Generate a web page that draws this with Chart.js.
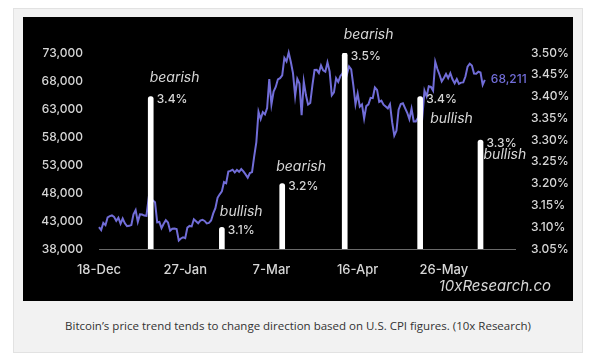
<!DOCTYPE html>
<html>
<head>
<meta charset="utf-8">
<script src="https://cdn.jsdelivr.net/npm/chart.js@4.4.1/dist/chart.umd.min.js"></script>
<style>
    html, body { margin: 0; padding: 0; background: #fff; }
    #frame { position: absolute; left: 13px; top: 8px; width: 568px; height: 343px; background: #f2f2f2; border: 1px solid #e2e2e2; }
    #plot { position: absolute; left: 9px; top: 8px; width: 550px; height: 284px; background: #000; }
    #caption { position: absolute; left: 0; top: 309px; width: 100%; text-align: center; font: 11.5px "Open Sans", sans-serif; color: #333; }
</style>
</head>
<body>
<div id="frame">
    <div id="plot"><canvas id="btcCpiChart"></canvas></div>
    <div id="caption">Bitcoin’s price trend tends to change direction based on U.S. CPI figures. (10x Research)</div>
</div>
<script>
// daily axis from 18-Dec to 28-Jun, only some dates get a tick label
var firstDay = new Date(2023, 11, 18);
var axisDays = 194;
var tickLabels = ['18-Dec', '27-Jan', '7-Mar', '16-Apr', '26-May'];

// BTC price, one value per day starting 18-Dec
var btcPrice = [
    41900, 41370, 42660, 42260, 43650, 43870, 43990, 43740, 43020, 43580, 42510, 43440, 42580, 42070, 42140, 42280,
    44180, 44950, 42850, 44180, 44160, 43970, 43930, 46970, 46120, 46660, 46340, 42780, 42840, 41730, 42510, 43150,
    42740, 41260, 41620, 41670, 41550, 39510, 39880, 40080, 39940, 41820, 42120, 42030, 43300, 42940, 42580,
    43080, 43200, 43010, 42580, 42660, 43090, 44350, 45300, 47150, 47770, 48290, 49960, 49740, 51830, 51940, 52160,
    51660, 52120, 51780, 52280, 51850, 51320, 50730, 51570, 51730, 54520, 57090, 62500, 61200,
    62440, 62030, 63170, 68330, 63800, 66110, 66930, 68300, 68500, 69020, 72120, 71480, 73080, 71400, 69400, 65300,
    68390, 67550, 61910, 67910, 65490, 63780, 64060, 67210, 69960, 69990, 69450, 70780, 69890, 69650, 71330,
    69700, 65450, 65980, 68510, 67840, 68900, 69360, 71620, 69140, 70590, 70060, 67200, 63820, 65740, 63420, 63810,
    61280, 63510, 63840, 64990, 64930, 66840, 66410, 64280, 64500, 63770, 63460, 63120, 63840, 60640,
    58250, 59120, 62890, 63890, 64030, 63160, 62330, 61190, 63050, 60790, 60790, 61450, 62900, 61550, 66270, 65230,
    67050, 66940, 66280, 71450, 70140, 69120, 67930, 68530, 69260, 68510, 69390, 68300, 67590, 68360, 67490,
    67710, 67750, 68800, 70570, 71080, 70760, 69340, 69300, 69650, 69510, 67320, 68211
];

// CPI releases
var cpiDates = ['11-Jan', '13-Feb', '12-Mar', '10-Apr', '15-May', '12-Jun'];
var cpiValues = [3.4, 3.1, 3.2, 3.5, 3.4, 3.3];
var cpiCalls = ['bearish', 'bullish', 'bearish', 'bearish', 'bullish', 'bullish'];

var months = ['Jan', 'Feb', 'Mar', 'Apr', 'May', 'Jun', 'Jul', 'Aug', 'Sep', 'Oct', 'Nov', 'Dec'];
var labels = [];
for (var i = 0; i < axisDays; i++) {
    var d = new Date(firstDay.getFullYear(), firstDay.getMonth(), firstDay.getDate() + i);
    labels.push(d.getDate() + '-' + months[d.getMonth()]);
}

var cpiBase = 3.05;
var cpiBars = labels.map(function (l) {
    var k = cpiDates.indexOf(l);
    return k >= 0 ? [cpiBase, cpiValues[k]] : null;
});

var FONT = 'Inter, "Noto Sans", sans-serif';
var TEXT = '#d6d6d6';
var PURPLE = '#716dd8';

// where the sentiment word sits relative to each bar top
var callPlacement = [
    { dx: -1, dy: -19 }, { dx: -2, dy: -15 }, { dx: -6, dy: -17 },
    { dx: -1, dy: -18 }, { dx: 10, dy: 22 }, { dx: 3, dy: 15 }
];

var annotations = {
    id: 'annotations',
    afterDatasetsDraw: function (chart) {
        var ctx = chart.ctx;
        var x = chart.scales.x, y1 = chart.scales.y1;
        ctx.save();
        ctx.textBaseline = 'middle';
        ctx.textAlign = 'left';
        cpiDates.forEach(function (d, k) {
            var px = x.getPixelForValue(labels.indexOf(d));
            var top = y1.getPixelForValue(cpiValues[k]);
            ctx.fillStyle = TEXT;
            ctx.font = '500 12px ' + FONT;
            ctx.fillText(cpiValues[k].toFixed(1) + '%', px + 6, top + 3);
            ctx.font = 'italic 400 14px ' + FONT;
            ctx.fillText(cpiCalls[k], px + callPlacement[k].dx, top + callPlacement[k].dy);
        });
        // last price
        var meta = chart.getDatasetMeta(0);
        var last = meta.data[btcPrice.length - 1];
        ctx.fillStyle = PURPLE;
        ctx.font = '500 12px ' + FONT;
        ctx.fillText(btcPrice[btcPrice.length - 1].toLocaleString('en-US'), last.x + 6, last.y);
        // source
        ctx.fillStyle = TEXT;
        ctx.textAlign = 'right';
        ctx.font = 'italic 400 15px ' + FONT;
        ctx.fillText('10xResearch.co', chart.chartArea.right + 36, chart.chartArea.bottom + 37);
        ctx.restore();
    }
};

new Chart(document.getElementById('btcCpiChart'), {
    data: {
        labels: labels,
        datasets: [{
            type: 'line',
            data: btcPrice,
            yAxisID: 'y',
            borderColor: PURPLE,
            borderWidth: 2,
            pointRadius: 0,
            tension: 0,
            clip: false,
            order: 2
        }, {
            type: 'bar',
            data: cpiBars,
            yAxisID: 'y1',
            backgroundColor: '#fff',
            barThickness: 5,
            borderRadius: { topLeft: 3, topRight: 3 },
            borderSkipped: 'start',
            order: 1
        }]
    },
    options: {
        responsive: true,
        maintainAspectRatio: false,
        animation: false,
        layout: { padding: { top: 36, left: 0, right: 0, bottom: 0 } },
        plugins: { legend: { display: false }, tooltip: { enabled: false } },
        scales: {
            x: {
                offset: false,
                grid: { display: false, drawTicks: false },
                border: { display: true, color: '#6a6a6a', width: 1 },
                afterFit: function (s) { s.height = 52; },
                ticks: {
                    autoSkip: false,
                    maxRotation: 0,
                    padding: 13,
                    color: TEXT,
                    font: { family: FONT, size: 13, weight: 500 },
                    callback: function (v) {
                        var l = labels[v];
                        return tickLabels.indexOf(l) >= 0 ? l : null;
                    }
                }
            },
            y: {
                position: 'left',
                min: 38000,
                max: 73000,
                grid: { display: false, drawTicks: false },
                border: { display: false },
                afterFit: function (s) { s.width = 76; },
                ticks: {
                    stepSize: 5000,
                    padding: 16,
                    color: TEXT,
                    font: { family: FONT, size: 12, weight: 500 },
                    callback: function (v) { return v.toLocaleString('en-US'); }
                }
            },
            y1: {
                position: 'right',
                min: 3.05,
                max: 3.50,
                grid: { display: false, drawTicks: false },
                border: { display: false },
                afterFit: function (s) { s.width = 58; },
                ticks: {
                    stepSize: 0.05,
                    padding: 16,
                    color: TEXT,
                    font: { family: FONT, size: 12, weight: 500 },
                    callback: function (v) { return v.toFixed(2) + '%'; }
                }
            }
        }
    },
    plugins: [annotations]
});
</script>
</body>
</html>
